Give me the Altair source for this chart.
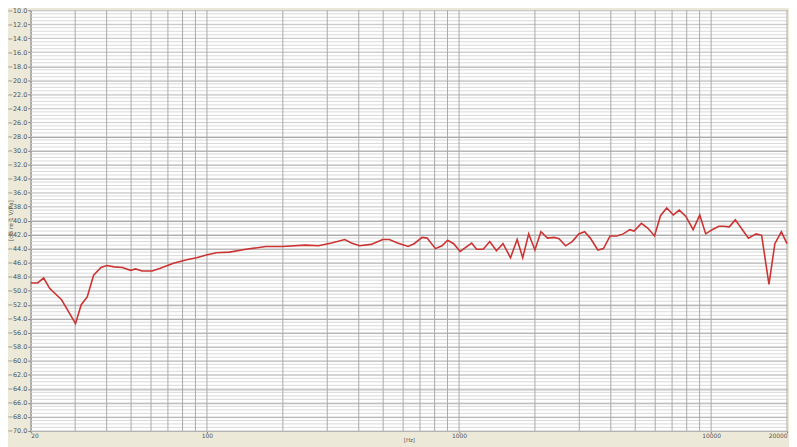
import altair as alt
import pandas as pd

# Frequency response
freq_hz = [20, 21.3, 22.5, 23.8, 26.5, 30.1, 31.7, 33.5, 35.5, 38.0, 40.1, 42.8, 46.2, 49.8,
           52.1, 55.3, 60.6, 65.3, 73.6, 83.1, 90.9, 99.5, 108.9, 122.8, 142.8, 171, 198.8,
           245.5, 276.8, 312, 352, 374, 403, 448, 498, 529, 570, 628, 663, 714, 747, 806, 856,
           901, 952, 1010, 1122, 1174, 1247, 1324, 1407, 1494, 1600, 1700, 1789, 1889, 2000,
           2112, 2243, 2382, 2492, 2647, 2811, 2984, 3150, 3316, 3554, 3740, 3973, 4220, 4480,
           4758, 4946, 5290, 5614, 5964, 6296, 6665, 7080, 7475, 7940, 8484, 9013, 9516, 10096,
           10726, 11220, 11812, 12470, 13240, 14066, 15080, 15862, 16956, 17898, 18994, 20000]
level_db = [-48.9, -48.9, -48.2, -49.7, -51.3, -54.7, -52.0, -50.9, -47.8, -46.7, -46.4, -46.6,
            -46.7, -47.1, -46.9, -47.2, -47.2, -46.8, -46.1, -45.6, -45.3, -44.9, -44.6, -44.5,
            -44.1, -43.7, -43.7, -43.5, -43.6, -43.2, -42.7, -43.2, -43.6, -43.4, -42.7, -42.7,
            -43.2, -43.7, -43.3, -42.4, -42.5, -44.0, -43.6, -42.8, -43.3, -44.4, -43.2, -44.1,
            -44.1, -43.0, -44.3, -43.3, -45.3, -42.7, -45.3, -41.9, -44.2, -41.6, -42.5, -42.4,
            -42.6, -43.6, -43.0, -41.9, -41.6, -42.5, -44.2, -44.0, -42.2, -42.2, -41.9, -41.3,
            -41.5, -40.4, -41.1, -42.2, -39.3, -38.2, -39.2, -38.5, -39.4, -41.3, -39.2, -41.9,
            -41.3, -40.8, -40.8, -40.9, -39.9, -41.2, -42.5, -41.9, -42.1, -49.1, -43.3, -41.6,
            -43.3]

# Axis ticks / grid positions
x_label_ticks = [20, 100, 1000, 10000, 20000]
x_grid = [20, 30, 40, 50, 60, 70, 80, 90,
          100, 200, 300, 400, 500, 600, 700, 800, 900,
          1000, 2000, 3000, 4000, 5000, 6000, 7000, 8000, 9000,
          10000, 20000]
y_label_ticks = [-70, -68, -66, -64, -62, -60, -58, -56, -54, -52, -50, -48, -46, -44, -42,
                 -40, -38, -36, -34, -32, -30, -28, -26, -24, -22, -20, -18, -16, -14, -12, -10]
y_minor_grid = [-70 + 0.5 * i for i in range(121)]

df = pd.DataFrame({"f": freq_hz, "db": level_db})
xg = pd.DataFrame({"f": x_grid})
yg = pd.DataFrame({"db": y_minor_grid})

xscale = alt.Scale(type="log", domain=[20, 20000], nice=False, zero=False)
yscale = alt.Scale(domain=[-70, -10], nice=False, zero=False)

xaxis = alt.Axis(values=x_label_ticks, format="d", grid=False,
                 labelFontSize=6, labelColor="#555555", labelFont="DejaVu Sans",
                 labelPadding=0, tickSize=2, tickColor="#777777",
                 labelFlush=True, labelOverlap=False,
                 domainColor="#999999",
                 title="[Hz]", titleFontSize=5.5, titleFontWeight="normal",
                 titleColor="#555555", titlePadding=-1, titleFont="DejaVu Sans")
yaxis = alt.Axis(values=y_label_ticks, format=".1f", grid=True,
                 gridColor="#a0a0a0", gridWidth=1,
                 labelFontSize=6.5, labelColor="#555555", labelFont="DejaVu Sans",
                 labelPadding=1, tickSize=3, tickColor="#777777",
                 labelOverlap=False, domainColor="#888888",
                 title="[dB re 1 V/Pa]", titleFontSize=6, titleFontWeight="normal",
                 titleColor="#555555", titleFont="DejaVu Sans",
                 titleAngle=270, titleX=-23, titleY=212,
                 titleAlign="center", titleBaseline="top")

hgrid = alt.Chart(yg).mark_rule(color="#d9d9d9", strokeWidth=1).encode(
    y=alt.Y("db:Q", scale=yscale, axis=yaxis)
)
vgrid = alt.Chart(xg).mark_rule(color="#a9a9a9", strokeWidth=1).encode(
    x=alt.X("f:Q", scale=xscale, axis=xaxis)
)

line = alt.Chart(df).mark_line(color="#CC3333", strokeWidth=1.6).encode(
    x=alt.X("f:Q", scale=xscale, axis=xaxis),
    y=alt.Y("db:Q", scale=yscale, axis=yaxis),
)

chart = alt.layer(hgrid, vgrid, line).properties(
    width=764, height=425,
    autosize="none",
    padding={"left": 23, "top": 0, "right": 2, "bottom": 14},
    background="#ECE9D8",
).configure_view(fill="white", stroke="transparent")

chart.save("out.html", embed_options={"renderer": "svg", "actions": False})
